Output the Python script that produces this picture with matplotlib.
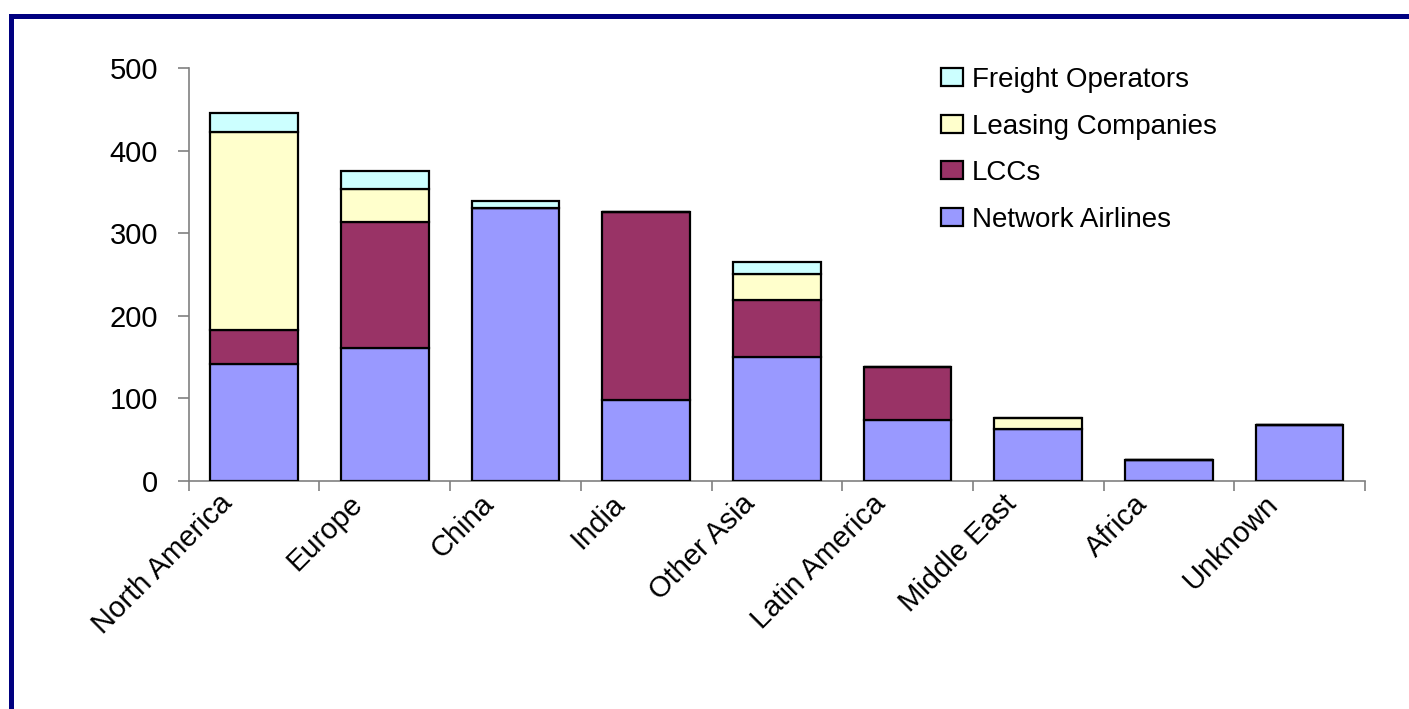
import matplotlib
matplotlib.use('Agg')
import matplotlib.pyplot as plt
import matplotlib.transforms as mtransforms
from matplotlib.patches import Rectangle
import numpy as np

plt.rcParams['font.family'] = ['Liberation Sans', 'DejaVu Sans']

# data
regions = ['North America', 'Europe', 'China', 'India', 'Other Asia',
           'Latin America', 'Middle East', 'Africa', 'Unknown']
network = [142, 161, 330, 98, 150, 74, 63, 25, 68]
lccs = [41, 152, 0, 228, 69, 64, 0, 0, 0]
leasing = [239, 41, 0, 0, 32, 0, 13, 0, 0]
freight = [24, 21, 9, 0, 14, 0, 0, 0, 0]

series = [('Network Airlines', network, '#9999FF'),
          ('LCCs', lccs, '#993366'),
          ('Leasing Companies', leasing, '#FFFFCC'),
          ('Freight Operators', freight, '#CCFFFF')]

fig = plt.figure(figsize=(14.09, 7.09), dpi=100)
ax = fig.add_axes([188.7 / 1409, 1 - 481 / 709, (1365 - 188.7) / 1409, (481 - 68) / 709])

x = np.arange(len(regions))
bottom = np.zeros(len(regions))
handles = []
for name, vals, color in series:
    vals = np.array(vals, dtype=float)
    b = ax.bar(x, vals, 0.67, bottom=bottom, color=color, edgecolor='black',
               linewidth=1.6, label=name, zorder=3)
    handles.append(b)
    bottom += vals

ax.set_xlim(-0.5, len(regions) - 0.5)
ax.set_ylim(0, 500)
ax.set_yticks([0, 100, 200, 300, 400, 500])
ax.tick_params(axis='y', labelsize=21, length=8, width=1.2, color='#808080', pad=14)

ax.set_xticks(x)
ax.set_xticklabels(regions, rotation=45, ha='right', va='top', rotation_mode='anchor', fontsize=21)
ax.set_xticks(np.arange(-0.5, len(regions), 1), minor=True)
ax.tick_params(axis='x', which='major', length=0, pad=6)
ax.tick_params(axis='x', which='minor', length=7, width=1.2, color='#808080')
offset = mtransforms.ScaledTranslation(-26 / 72, 0, fig.dpi_scale_trans)
for lbl in ax.get_xticklabels():
    lbl.set_transform(lbl.get_transform() + offset)

for s in ['top', 'right']:
    ax.spines[s].set_visible(False)
for s in ['left', 'bottom']:
    ax.spines[s].set_color('#808080')
    ax.spines[s].set_linewidth(1.2)

leg = ax.legend(handles[::-1], [s[0] for s in series][::-1], loc='upper left',
                bbox_to_anchor=(930 / 1409, 1 - 56 / 709), bbox_transform=fig.transFigure,
                frameon=False, fontsize=20, handlelength=0.8, handleheight=0.62,
                handletextpad=0.3, labelspacing=0.74, borderaxespad=0)

# navy frame clipped at the right and bottom edges
fig.patches.append(Rectangle((10.5 / 1409, -0.2), 1.5, 1.2 - 15.5 / 709,
                             transform=fig.transFigure, fill=False,
                             edgecolor='#000080', linewidth=3.6))

fig.savefig('out.png', dpi=100)
